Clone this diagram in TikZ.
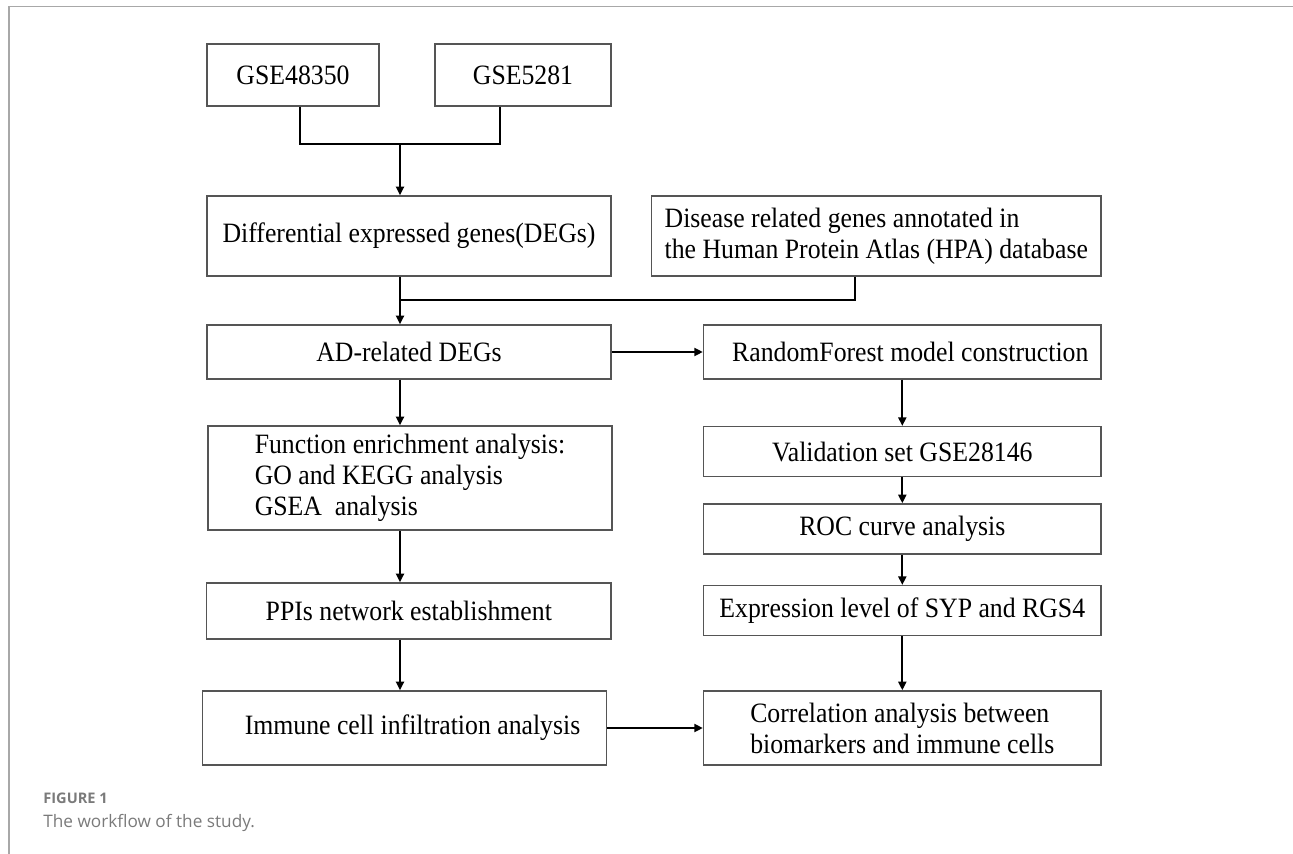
\documentclass[tikz,border=0pt]{standalone}
\usepackage{fontspec}
\setmainfont[FakeStretch=0.92]{Liberation Serif}
\newfontfamily\capfont{Open Sans}
\usepackage{tikz}
\usetikzlibrary{arrows.meta,positioning}

\definecolor{boxline}{HTML}{555555}
\definecolor{frameline}{HTML}{A8A8A8}
\definecolor{captext}{HTML}{7A7A7A}

\begin{document}
\begin{tikzpicture}[x=0.5pt,y=-0.5pt,
  box/.style={draw=boxline,line width=0.75pt,rectangle,inner sep=0pt,
    font=\fontsize{14}{15.5}\selectfont},
  wire/.style={line width=1pt,black},
  flow/.style={wire,-{Triangle[length=4.3pt,width=4pt]}}]
\useasboundingbox (0,0) rectangle (1293,854);
\draw[frameline,line width=0.75pt] (9,854) -- (9,6.7) -- (1293,6.7);

\node[box,minimum width=86pt,minimum height=31pt] (g1) at (293,75) {GSE48350\hspace{4pt}};
\node[box,minimum width=88pt,minimum height=31pt] (g2) at (523,75) {GSE5281};
\node[box,minimum width=202pt,minimum height=40pt] (deg) at (409,236) {Differential expressed genes(DEGs)\vphantom{y}\\[6pt]};
\node[box,minimum width=224.7pt,minimum height=40pt,align=left] (hpa) at (876.3,236) {Disease related genes annotated in\\the Human Protein Atlas (HPA) database};
\node[box,minimum width=202pt,minimum height=27pt] (ad) at (409,352) {AD-related DEGs};
\node[box,minimum width=198.7pt,minimum height=27pt] (rf) at (902.3,352) {\hspace{8pt}RandomForest model construction};
\node[box,minimum width=202pt,minimum height=52pt,align=left] (fun) at (410,478) {Function enrichment analysis:\\GO and KEGG analysis\\GSEA\ \ analysis};
\node[box,minimum width=198.7pt,minimum height=25pt] (val) at (902.3,451.7) {Validation set GSE28146\hspace{12pt}};
\node[box,minimum width=198.7pt,minimum height=25pt] (roc) at (902.3,529) {ROC curve analysis};
\node[box,minimum width=198.7pt,minimum height=25pt] (expr) at (902.3,610.7) {Expression level of SYP and RGS4};
\node[box,minimum width=202.2pt,minimum height=28pt] (ppi) at (408.8,611) {PPIs network establishment\hspace{12pt}};
\node[box,minimum width=202pt,minimum height=37pt] (imm) at (404.5,728) {\hspace{8pt}Immune cell infiltration analysis};
\node[box,minimum width=198.7pt,minimum height=37pt,align=left] (cor) at (902.3,728) {Correlation analysis between\\biomarkers and immune cells};

% joins
\coordinate (j1) at (400,144);
\coordinate (j2) at (400,300);
\draw[wire] ([xshift=3.3pt]g1.south) |- (j1) -| ([xshift=-11.5pt]g2.south);
\draw[wire] ([xshift=-10.45pt]hpa.south) |- (j2);

\path[flow]
(j1) edge (deg.north -| j1)
(deg.south -| j1) edge (ad.north -| j1)
(ad.south -| j1) edge (fun.north -| j1)
(fun.south -| j1) edge (ppi.north -| j1)
(ppi.south -| j1) edge (imm.north -| j1)
(ad.east) edge (rf.west)
(rf.south) edge (val.north)
(val.south) edge (roc.north)
(roc.south) edge (expr.north)
(expr.south) edge (cor.north)
(imm.east) edge (cor.west);

\node[anchor=base west,inner sep=0pt,text=captext,font=\capfont\fontsize{7.3}{9}\selectfont\bfseries] (fig) at (43,803) {FIGURE 1};
\node[anchor=base west,inner sep=0pt,text=captext,font=\capfont\fontsize{8.6}{11}\selectfont] (cap) at (43,827) {The workflow of the study.};
\end{tikzpicture}
\end{document}
